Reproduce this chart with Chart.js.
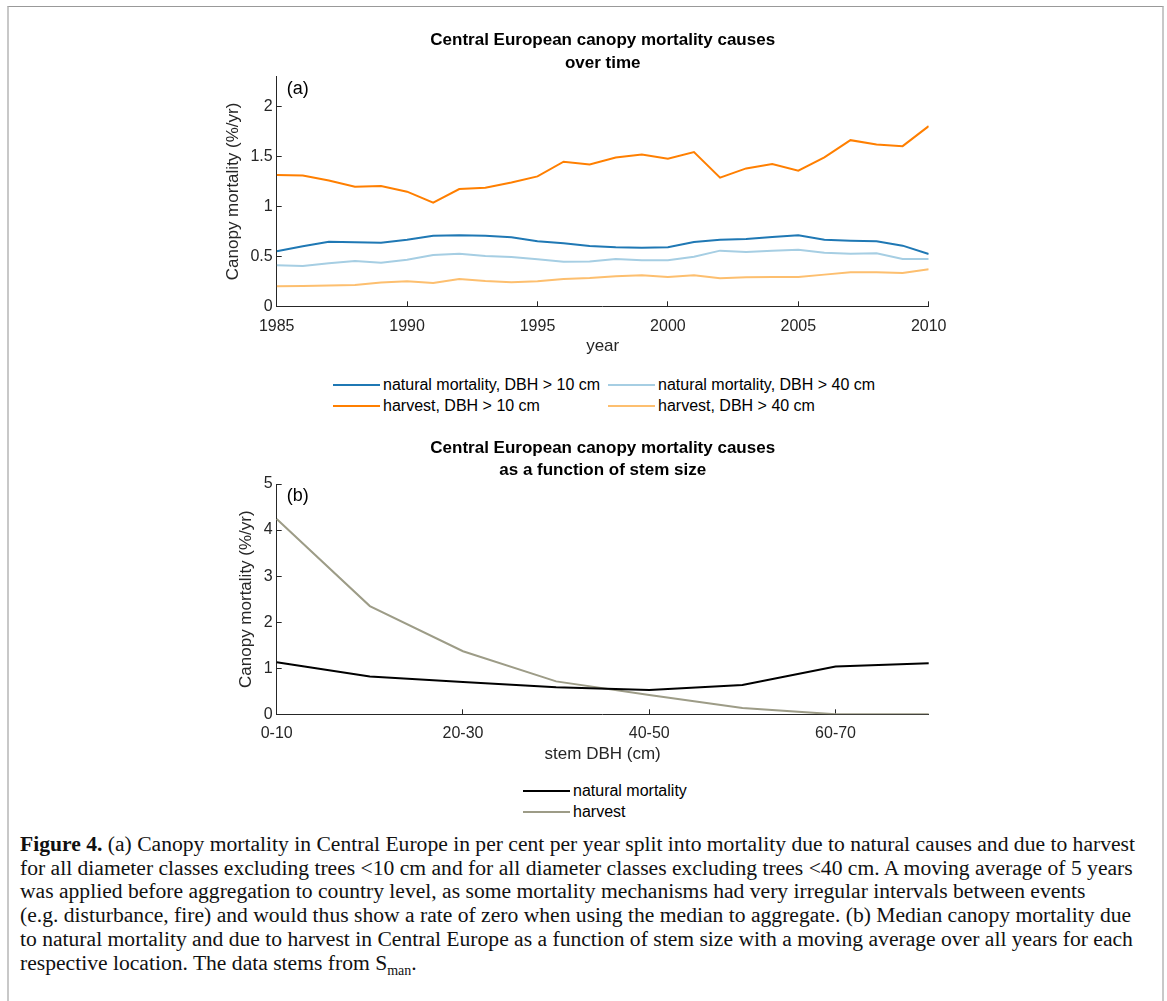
<!DOCTYPE html>
<html>
<head>
<meta charset="utf-8">
<title>Central European canopy mortality</title>
<script src="https://cdn.jsdelivr.net/npm/chart.js@4.4.1/dist/chart.umd.min.js"></script>
<style>
  body { margin: 0; background: #fff; }
  #fig { position: relative; width: 1167px; height: 1001px; overflow: hidden; }
  #frame { position: absolute; left: 7px; top: 6px; width: 1153px; height: 1010px;
           border-top: 1px solid #999; border-left: 2px solid #c8c8c8; border-right: 2px solid #c8c8c8; }
  .wrap { position: absolute; left: 150px; width: 860px; height: 340px; }
  .legend { position: absolute; font: 16px "Liberation Sans", Arial, sans-serif; color: #000; }
  .legend .item { position: absolute; white-space: nowrap; line-height: 20px; }
  .legend .swatch { display: inline-block; width: 47px; height: 0; border-top: 2px solid; vertical-align: middle; margin-right: 3px; position: relative; top: -1px; }
  #caption { position: absolute; left: 20px; top: 833px; font-family: "Liberation Serif", "DejaVu Serif", serif;
             font-size: 21.6px; line-height: 23.7px; color: #111; white-space: nowrap; }
</style>
</head>
<body>
<div id="fig">
  <div id="frame"></div>
  <div class="wrap" style="top:20px"><canvas id="chartA"></canvas></div>
  <div class="legend" id="legendA"></div>
  <div class="wrap" style="top:425px"><canvas id="chartB"></canvas></div>
  <div class="legend" id="legendB"></div>
  <div id="caption">
    <b>Figure 4.</b> (a) Canopy mortality in Central Europe in per cent per year split into mortality due to natural causes and due to harvest<br>
    for all diameter classes excluding trees &lt;10 cm and for all diameter classes excluding trees &lt;40 cm. A moving average of 5 years<br>
    was applied before aggregation to country level, as some mortality mechanisms had very irregular intervals between events<br>
    (e.g. disturbance, fire) and would thus show a rate of zero when using the median to aggregate. (b) Median canopy mortality due<br>
    to natural mortality and due to harvest in Central Europe as a function of stem size with a moving average over all years for each<br>
    respective location. The data stems from S<sub style="font-size:14px">man</sub>.
  </div>
</div>
<script>
// panel (a): canopy mortality over time (%/yr)
var years = [1985,1986,1987,1988,1989,1990,1991,1992,1993,1994,1995,1996,1997,
             1998,1999,2000,2001,2002,2003,2004,2005,2006,2007,2008,2009,2010];
var natural10 = [0.55,0.60,0.645,0.64,0.635,0.665,0.707,0.71,0.707,0.69,0.65,0.63,0.603,
                 0.59,0.587,0.59,0.643,0.667,0.673,0.693,0.71,0.667,0.657,0.65,0.607,0.523];
var natural40 = [0.41,0.403,0.43,0.453,0.435,0.467,0.513,0.527,0.503,0.493,0.47,0.445,0.448,
                 0.473,0.46,0.46,0.497,0.557,0.543,0.557,0.567,0.537,0.527,0.53,0.473,0.473];
var harvest10 = [1.313,1.31,1.26,1.197,1.203,1.147,1.037,1.173,1.187,1.24,1.30,1.447,1.42,
                 1.49,1.52,1.477,1.543,1.287,1.38,1.423,1.357,1.49,1.663,1.62,1.603,1.803];
var harvest40 = [0.20,0.203,0.207,0.213,0.237,0.25,0.233,0.273,0.253,0.24,0.25,0.273,0.283,
                 0.30,0.31,0.293,0.31,0.28,0.29,0.293,0.293,0.317,0.34,0.34,0.333,0.37];
var seriesA = [
  {label: 'natural mortality, DBH > 10 cm', values: natural10, color: '#1f78b4'},
  {label: 'natural mortality, DBH > 40 cm', values: natural40, color: '#a6cee3'},
  {label: 'harvest, DBH > 10 cm', values: harvest10, color: '#ff7f00'},
  {label: 'harvest, DBH > 40 cm', values: harvest40, color: '#fdbf6f'}
];

// panel (b): canopy mortality by stem size (%/yr)
var dbhClasses = ['0-10','10-20','20-30','30-40','40-50','50-60','60-70','70-80'];
var naturalBySize = [1.13,0.82,0.70,0.585,0.527,0.636,1.04,1.11];
var harvestBySize = [4.24,2.35,1.37,0.715,0.42,0.137,0.0,0.0];
var seriesB = [
  {label: 'natural mortality', values: naturalBySize, color: '#000000'},
  {label: 'harvest', values: harvestBySize, color: '#9d9c87'}
];

var FONT = '"Liberation Sans", Arial, sans-serif';
Chart.defaults.font.family = FONT;
Chart.defaults.font.size = 16;
Chart.defaults.color = '#262626';
Chart.defaults.animation = false;
Chart.defaults.maintainAspectRatio = false;
Chart.defaults.responsive = true;

// titles + panel tag, centred on the plot area like the MATLAB figure
var panelText = {
  id: 'panelText',
  afterDraw: function (chart, args, opts) {
    var ctx = chart.ctx, a = chart.chartArea;
    ctx.save();
    ctx.fillStyle = '#000';
    ctx.textBaseline = 'middle';
    ctx.textAlign = 'center';
    ctx.font = 'bold 17px ' + FONT;
    var cx = (a.left + a.right) / 2;
    opts.title.forEach(function (t, i) { ctx.fillText(t, cx, a.top - 36 + i * 22.8); });
    ctx.textAlign = 'left';
    ctx.font = '18px ' + FONT;
    ctx.fillText(opts.tag, a.left + 10, a.top + 12.5);
    ctx.restore();
  }
};

function axisCommon(extra) {
  var o = {
    grid: {drawOnChartArea: false, drawTicks: true, tickLength: -5, color: '#262626'},
    border: {display: true, color: '#262626', width: 1}
  };
  return Object.assign(o, extra);
}

function plainNum(v) { return String(Math.round(v * 100) / 100); }

// row-major legend, `cols` columns
function makeLegend(id, series, left, top, colGap, cols) {
  var el = document.getElementById(id);
  series.forEach(function (s, i) {
    var col = i % cols, row = Math.floor(i / cols);
    var d = document.createElement('div');
    d.className = 'item';
    d.style.left = (left + col * colGap) + 'px';
    d.style.top = (top + row * 21) + 'px';
    d.innerHTML = '<span class="swatch" style="border-color:' + s.color + '"></span>' + s.label;
    el.appendChild(d);
  });
}

new Chart(document.getElementById('chartA'), {
  type: 'line',
  data: {
    datasets: seriesA.map(function (s) {
      return {
        label: s.label,
        data: years.map(function (y, i) { return {x: y, y: s.values[i]}; }),
        borderColor: s.color, borderWidth: 2, pointRadius: 0, fill: false, tension: 0
      };
    })
  },
  options: {
    layout: {padding: {left: 73, right: 81.3, top: 56.5, bottom: 3}},
    plugins: {
      legend: {display: false},
      tooltip: {enabled: false},
      panelText: {title: ['Central European canopy mortality causes', 'over time'], tag: '(a)'}
    },
    scales: {
      x: axisCommon({
        type: 'linear', min: 1985, max: 2010,
        ticks: {stepSize: 5, padding: 15.5, maxRotation: 0, callback: function (v) { return String(v); }},
        title: {display: true, text: 'year', padding: 0, font: {size: 17}},
        afterFit: function (s) { s.height = 50.7; }
      }),
      y: axisCommon({
        min: 0, max: 2.3,
        ticks: {stepSize: 0.5, padding: 9, includeBounds: false, callback: plainNum},
        title: {display: true, text: 'Canopy mortality (%/yr)', padding: 0, font: {size: 17}},
        afterFit: function (s) { s.width = 53.7; }
      })
    }
  },
  plugins: [panelText]
});

new Chart(document.getElementById('chartB'), {
  type: 'line',
  data: {
    labels: dbhClasses,
    datasets: seriesB.map(function (s) {
      return {
        label: s.label, data: s.values,
        borderColor: s.color, borderWidth: 2, pointRadius: 0, fill: false, tension: 0
      };
    })
  },
  options: {
    layout: {padding: {left: 86, right: 81.3, top: 59, bottom: 0}},
    plugins: {
      legend: {display: false},
      tooltip: {enabled: false},
      panelText: {title: ['Central European canopy mortality causes', 'as a function of stem size'], tag: '(b)'}
    },
    scales: {
      x: axisCommon({
        type: 'category', offset: false,
        ticks: {padding: 15, maxRotation: 0, autoSkip: false},
        afterBuildTicks: function (s) { s.ticks = s.ticks.filter(function (t) { return t.value % 2 === 0; }); },
        title: {display: true, text: 'stem DBH (cm)', padding: 0, font: {size: 17}},
        afterFit: function (s) { s.height = 50.7; }
      }),
      y: axisCommon({
        min: 0, max: 5,
        ticks: {stepSize: 1, padding: 9, callback: plainNum},
        title: {display: true, text: 'Canopy mortality (%/yr)', padding: 0, font: {size: 17}},
        afterFit: function (s) { s.width = 40.7; }
      })
    }
  },
  plugins: [panelText]
});

makeLegend('legendA', seriesA, 333, 375, 275, 2);
makeLegend('legendB', seriesB, 523, 781, 0, 1);
</script>
</body>
</html>
